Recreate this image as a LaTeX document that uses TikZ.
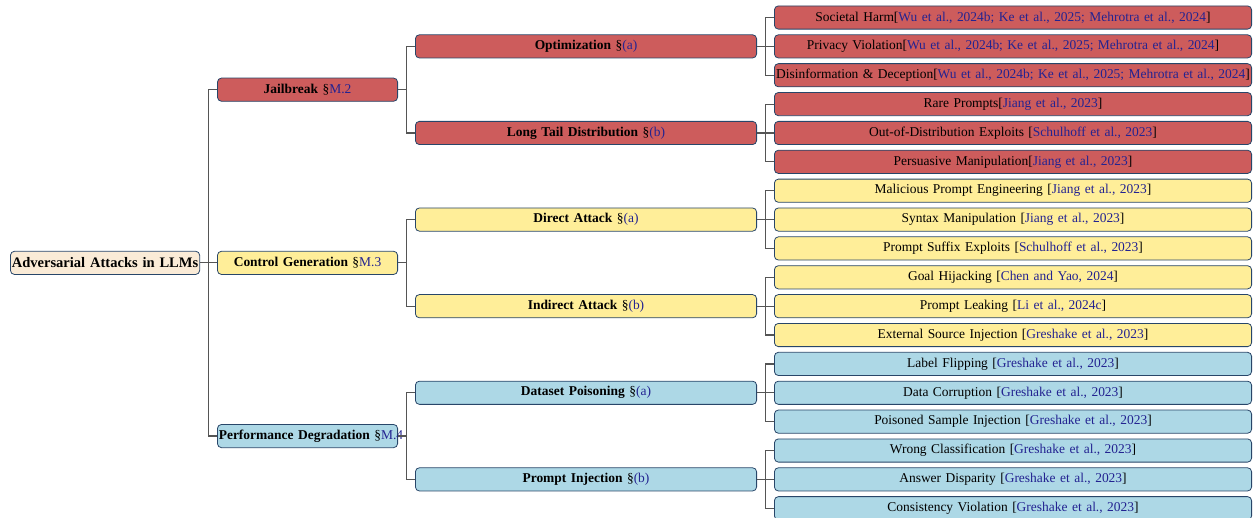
\documentclass[tikz,border=0pt]{standalone}
\usepackage{fontspec}
\setmainfont{Liberation Serif}
\usetikzlibrary{positioning,calc}

\definecolor{jbred}{RGB}{205,92,92}
\definecolor{cgyellow}{RGB}{255,238,153}
\definecolor{pdblue}{RGB}{173,216,230}
\definecolor{rootbg}{RGB}{250,235,215}
\definecolor{boxline}{RGB}{40,70,105}
\definecolor{citeblue}{RGB}{35,35,145}
\definecolor{linkgray}{RGB}{85,85,85}
\newcommand{\citeblue}[1]{\textcolor{citeblue}{#1}}

\tikzset{
  box/.style={draw=boxline, line width=0.6pt, rounded corners=3pt, minimum height=17.4pt,
    inner xsep=1pt, inner ysep=0pt, align=center, font=\fontsize{10.1}{12}\selectfont,
    execute at begin node={\leavevmode\hbox\bgroup}, execute at end node={\egroup}},
  rootbox/.style={box, fill=rootbg, text width=139.9pt, font=\fontsize{10.9}{12}\selectfont\bfseries},
  lvone/.style={box, text width=133.1pt},
  lvtwo/.style={box, text width=253.9pt},
  leaf/.style={box, text width=355.9pt},
  link/.style={draw=linkgray, line width=0.9pt}
}

\begin{document}
\begin{tikzpicture}[x=0.75pt, y=-0.75pt, node distance=3.65pt and 12.75pt]
  \useasboundingbox (0,0) rectangle (1254,518);

  % leaves
  \node (l1) [leaf, fill=jbred] at (1013,17.5) {Societal Harm[\citeblue{Wu et al., 2024b; Ke et al., 2025; Mehrotra et al., 2024}]};
  \node (l2) [leaf, fill=jbred, below=of l1] {Privacy Violation[\citeblue{Wu et al., 2024b; Ke et al., 2025; Mehrotra et al., 2024}]};
  \node (l3) [leaf, fill=jbred, below=of l2] {Disinformation \& Deception[\citeblue{Wu et al., 2024b; Ke et al., 2025; Mehrotra et al., 2024}]};
  \node (l4) [leaf, fill=jbred, below=of l3] {Rare Prompts[\citeblue{Jiang et al., 2023}]};
  \node (l5) [leaf, fill=jbred, below=of l4] {Out-of-Distribution Exploits [\citeblue{Schulhoff et al., 2023}]};
  \node (l6) [leaf, fill=jbred, below=of l5] {Persuasive Manipulation[\citeblue{Jiang et al., 2023}]};
  \node (l7) [leaf, fill=cgyellow, below=of l6] {Malicious Prompt Engineering [\citeblue{Jiang et al., 2023}]};
  \node (l8) [leaf, fill=cgyellow, below=of l7] {Syntax Manipulation [\citeblue{Jiang et al., 2023}]};
  \node (l9) [leaf, fill=cgyellow, below=of l8] {Prompt Suffix Exploits [\citeblue{Schulhoff et al., 2023}]};
  \node (l10) [leaf, fill=cgyellow, below=of l9] {Goal Hijacking [\citeblue{Chen and Yao, 2024}]};
  \node (l11) [leaf, fill=cgyellow, below=of l10] {Prompt Leaking [\citeblue{Li et al., 2024c}]};
  \node (l12) [leaf, fill=cgyellow, below=of l11] {External Source Injection [\citeblue{Greshake et al., 2023}]};
  \node (l13) [leaf, fill=pdblue, below=of l12] {Label Flipping [\citeblue{Greshake et al., 2023}]};
  \node (l14) [leaf, fill=pdblue, below=of l13] {Data Corruption [\citeblue{Greshake et al., 2023}]};
  \node (l15) [leaf, fill=pdblue, below=of l14] {Poisoned Sample Injection [\citeblue{Greshake et al., 2023}]};
  \node (l16) [leaf, fill=pdblue, below=of l15] {Wrong Classification [\citeblue{Greshake et al., 2023}]};
  \node (l17) [leaf, fill=pdblue, below=of l16] {Answer Disparity [\citeblue{Greshake et al., 2023}]};
  \node (l18) [leaf, fill=pdblue, below=of l17] {Consistency Violation [\citeblue{Greshake et al., 2023}]};

  % second level
  \node (opt) [lvtwo, fill=jbred, left=of l2] {\textbf{Optimization} \S\citeblue{(a)}};
  \node (tail) [lvtwo, fill=jbred, left=of l5] {\textbf{Long Tail Distribution} \S\citeblue{(b)}};
  \node (direct) [lvtwo, fill=cgyellow, left=of l8] {\textbf{Direct Attack} \S\citeblue{(a)}};
  \node (indirect) [lvtwo, fill=cgyellow, left=of l11] {\textbf{Indirect Attack} \S\citeblue{(b)}};
  \node (poison) [lvtwo, fill=pdblue, left=of l14] {\textbf{Dataset Poisoning} \S\citeblue{(a)}};
  \node (inject) [lvtwo, fill=pdblue, left=of l17] {\textbf{Prompt Injection} \S\citeblue{(b)}};

  % first level
  \coordinate (jbmid) at ($(opt.west)!0.5!(tail.west)$);
  \coordinate (cgmid) at ($(direct.west)!0.5!(indirect.west)$);
  \coordinate (pdmid) at ($(poison.west)!0.5!(inject.west)$);
  \node (jb) [lvone, fill=jbred, left=of jbmid] {\textbf{Jailbreak} \S\citeblue{M.2}};
  \node (cg) [lvone, fill=cgyellow, left=of cgmid] {\textbf{Control Generation} \S\citeblue{M.3}};
  \node (pd) [lvone, fill=pdblue, left=of pdmid] {\textbf{Performance Degradation} \S\citeblue{M.4}};

  % root
  \node (root) [rootbox, left=of cg] {Adversarial Attacks in LLMs};

  \draw [link] (root.east) -- ++(6.4pt,0) |- (jb.west);
  \draw [link] (root.east) -- (cg.west);
  \draw [link] (root.east) -- ++(6.4pt,0) |- (pd.west);

  \draw [link] (jb.east) -- ++(6.4pt,0) |- (opt.west);
  \draw [link] (jb.east) -- ++(6.4pt,0) |- (tail.west);
  \draw [link] (cg.east) -- ++(6.4pt,0) |- (direct.west);
  \draw [link] (cg.east) -- ++(6.4pt,0) |- (indirect.west);
  \draw [link] (pd.east) -- ++(6.4pt,0) |- (poison.west);
  \draw [link] (pd.east) -- ++(6.4pt,0) |- (inject.west);

  \draw [link] (opt.east) -- ++(6.4pt,0) |- (l1.west);
  \draw [link] (opt.east) -- (l2.west);
  \draw [link] (opt.east) -- ++(6.4pt,0) |- (l3.west);
  \draw [link] (tail.east) -- ++(6.4pt,0) |- (l4.west);
  \draw [link] (tail.east) -- (l5.west);
  \draw [link] (tail.east) -- ++(6.4pt,0) |- (l6.west);
  \draw [link] (direct.east) -- ++(6.4pt,0) |- (l7.west);
  \draw [link] (direct.east) -- (l8.west);
  \draw [link] (direct.east) -- ++(6.4pt,0) |- (l9.west);
  \draw [link] (indirect.east) -- ++(6.4pt,0) |- (l10.west);
  \draw [link] (indirect.east) -- (l11.west);
  \draw [link] (indirect.east) -- ++(6.4pt,0) |- (l12.west);
  \draw [link] (poison.east) -- ++(6.4pt,0) |- (l13.west);
  \draw [link] (poison.east) -- (l14.west);
  \draw [link] (poison.east) -- ++(6.4pt,0) |- (l15.west);
  \draw [link] (inject.east) -- ++(6.4pt,0) |- (l16.west);
  \draw [link] (inject.east) -- (l17.west);
  \draw [link] (inject.east) -- ++(6.4pt,0) |- (l18.west);
\end{tikzpicture}
\end{document}
